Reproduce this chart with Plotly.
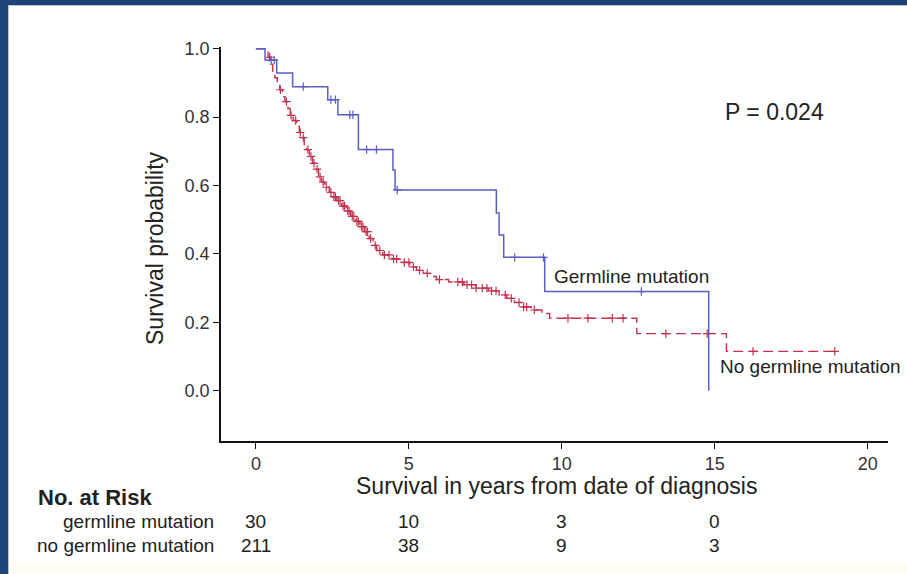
import numpy as np
import plotly.graph_objects as go

# Kaplan-Meier estimates: event times (years) and survival after each step
germline_times = [0, 0.3, 0.68, 1.2, 2.35, 2.68, 3.35, 4.48, 4.55, 7.86, 7.95, 8.1, 9.44, 14.8]
germline_surv = [1.0, 0.967, 0.929, 0.889, 0.851, 0.807, 0.705, 0.645, 0.587, 0.52, 0.455, 0.39, 0.29, 0.0]
germline_censored = [0.5, 0.6, 1.55, 2.45, 2.6, 3.07, 3.17, 3.62, 3.94, 4.62, 8.46, 9.4, 12.6]

no_germline_times = [0, 0.3, 0.4, 0.48, 0.55, 0.62, 0.7, 0.78, 0.87, 0.95, 1.05, 1.12, 1.22,
                     1.33, 1.42, 1.5, 1.58, 1.66, 1.75, 1.85, 1.95, 2.05, 2.15, 2.25, 2.4,
                     2.52, 2.64, 2.8, 2.96, 3.1, 3.25, 3.4, 3.55, 3.7, 3.83, 3.95, 4.15,
                     4.45, 4.75, 5.03, 5.25, 5.47, 5.7, 5.9, 6.3, 6.8, 7.2, 7.6, 7.95, 8.2,
                     8.45, 8.7, 9.0, 9.35, 9.6, 12.45, 15.38, 18.92]
no_germline_surv = [1.0, 0.99, 0.975, 0.955, 0.935, 0.915, 0.895, 0.88, 0.86, 0.845, 0.825,
                    0.805, 0.79, 0.773, 0.755, 0.74, 0.72, 0.705, 0.685, 0.665, 0.648, 0.625,
                    0.61, 0.595, 0.58, 0.567, 0.556, 0.54, 0.525, 0.51, 0.495, 0.48, 0.465,
                    0.445, 0.425, 0.41, 0.397, 0.385, 0.375, 0.362, 0.352, 0.343, 0.334,
                    0.325, 0.318, 0.31, 0.3, 0.292, 0.28, 0.27, 0.258, 0.245, 0.236, 0.226,
                    0.212, 0.167, 0.115, 0.115]
no_germline_censored = [0.45, 0.8, 1.0, 1.15, 1.3, 1.45, 1.55, 1.7, 1.8, 1.9, 2.0, 2.1, 2.2,
                        2.3, 2.45, 2.55, 2.6, 2.7, 2.75, 2.85, 2.9, 3.0, 3.05, 3.15, 3.2, 3.3,
                        3.35, 3.45, 3.5, 3.6, 3.65, 3.75, 3.9, 4.05, 4.2, 4.35, 4.5, 4.6, 4.85,
                        5.0, 5.15, 5.35, 5.6, 6.0, 6.6, 6.75, 6.9, 7.05, 7.2, 7.4, 7.55, 7.7,
                        7.85, 8.15, 8.35, 8.6, 8.75, 8.85, 9.1, 10.2, 10.85, 11.65, 12.0, 13.4,
                        14.75, 16.25, 18.92]

# Numbers at risk
risk_times = [0, 5, 10, 15]
risk_germline = [30, 10, 3, 0]
risk_no_germline = [211, 38, 9, 3]

x_ticks = [0, 5, 10, 15, 20]
y_ticks = [0.0, 0.2, 0.4, 0.6, 0.8, 1.0]

BLUE = "#5a5ec6"
RED = "#c2324f"
FONT = "Liberation Sans"

W, H = 907, 574
ML, MR, MT, MB = 221, 19, 47, 133


def surv_at(times, surv, t):
    idx = np.searchsorted(np.asarray(times), t, side="right") - 1
    return np.asarray(surv)[idx]


fig = go.Figure()

fig.add_trace(go.Scatter(
    x=no_germline_times, y=no_germline_surv, mode="lines", line_shape="hv",
    line=dict(color=RED, width=1.4, dash="10px,5px"), showlegend=False))
fig.add_trace(go.Scatter(
    x=no_germline_censored,
    y=surv_at(no_germline_times, no_germline_surv, no_germline_censored),
    mode="markers", showlegend=False,
    marker=dict(symbol="cross-thin-open", size=6, color=RED, line=dict(color=RED, width=1.2))))

fig.add_trace(go.Scatter(
    x=germline_times, y=germline_surv, mode="lines", line_shape="hv",
    line=dict(color=BLUE, width=1.5), showlegend=False))
fig.add_trace(go.Scatter(
    x=germline_censored,
    y=surv_at(germline_times, germline_surv, germline_censored),
    mode="markers", showlegend=False,
    marker=dict(symbol="cross-thin-open", size=6, color=BLUE, line=dict(color=BLUE, width=1.2))))

plot_w = W - ML - MR
plot_h = H - MT - MB


def px_x(px):
    return (px - ML) / plot_w


def px_y(py):
    return (H - MB - py) / plot_h


def note(x, y, text, size, xref="paper", yref="paper", xanchor="center", **kw):
    return dict(x=x, y=y, xref=xref, yref=yref, text=text, showarrow=False,
                xanchor=xanchor, yanchor="middle", font=dict(size=size, color="#222"), **kw)


annotations = [
    note(16.96, 0.816, "P = 0.024", 23, xref="x", yref="y"),
    note(12.29, 0.333, "Germline mutation", 19, xref="x", yref="y"),
    note(18.14, 0.07, "No germline mutation", 19, xref="x", yref="y"),
    note(px_x(155), px_y(248), "Survival probability", 23, textangle=-90),
    note(px_x(556), px_y(486), "Survival in years from date of diagnosis", 23),
    note(px_x(36), px_y(497), "<b>No. at Risk</b>", 22, xanchor="left"),
    note(px_x(216), px_y(521), "germline mutation", 19, xanchor="right"),
    note(px_x(216), px_y(545), "no germline mutation", 19, xanchor="right"),
]
for t, n in zip(risk_times, risk_germline):
    annotations.append(note(t, px_y(521), str(n), 19, xref="x"))
for t, n in zip(risk_times, risk_no_germline):
    annotations.append(note(t, px_y(545), str(n), 19, xref="x"))

shapes = [
    # faint cream strip along the bottom edge
    dict(type="rect", xref="paper", yref="paper", x0=px_x(0), x1=px_x(W),
         y0=px_y(H), y1=px_y(562), fillcolor="#fffdf3", line_width=0, layer="below"),
    # dark frame on the top and left edges
    dict(type="rect", xref="paper", yref="paper", x0=px_x(0), x1=px_x(W),
         y0=px_y(5), y1=px_y(0), fillcolor="#1d4377", line_width=0),
    dict(type="rect", xref="paper", yref="paper", x0=px_x(0), x1=px_x(8),
         y0=px_y(H), y1=px_y(0), fillcolor="#1d4377", line_width=0),
    dict(type="line", xref="paper", yref="paper", x0=px_x(8), x1=px_x(W),
         y0=px_y(5.5), y1=px_y(5.5), line=dict(color="#b9c3d6", width=1)),
    dict(type="line", xref="paper", yref="paper", x0=px_x(8.5), x1=px_x(8.5),
         y0=px_y(H), y1=px_y(5), line=dict(color="#b9c3d6", width=1)),
]

fig.update_layout(
    width=W, height=H,
    margin=dict(l=ML, r=MR, t=MT, b=MB),
    paper_bgcolor="white", plot_bgcolor="white",
    font=dict(family=FONT, color="#333"),
    annotations=annotations, shapes=shapes,
    xaxis=dict(range=[-1.14, 20.66], tickvals=x_ticks, ticktext=[str(v) for v in x_ticks],
               showgrid=False, zeroline=False, showline=True, linecolor="#111", linewidth=1.5,
               ticks="outside", ticklen=6, tickwidth=1.3, tickcolor="#111",
               tickfont=dict(size=18, color="#333")),
    yaxis=dict(range=[-0.147, 1.005], tickvals=y_ticks, ticktext=[f"{v:.1f}" for v in y_ticks],
               showgrid=False, zeroline=False, showline=True, linecolor="#111", linewidth=1.5,
               ticks="outside", ticklen=6, tickwidth=1.3, tickcolor="#111",
               tickfont=dict(size=18, color="#333")),
)

fig.write_html("out.html")
